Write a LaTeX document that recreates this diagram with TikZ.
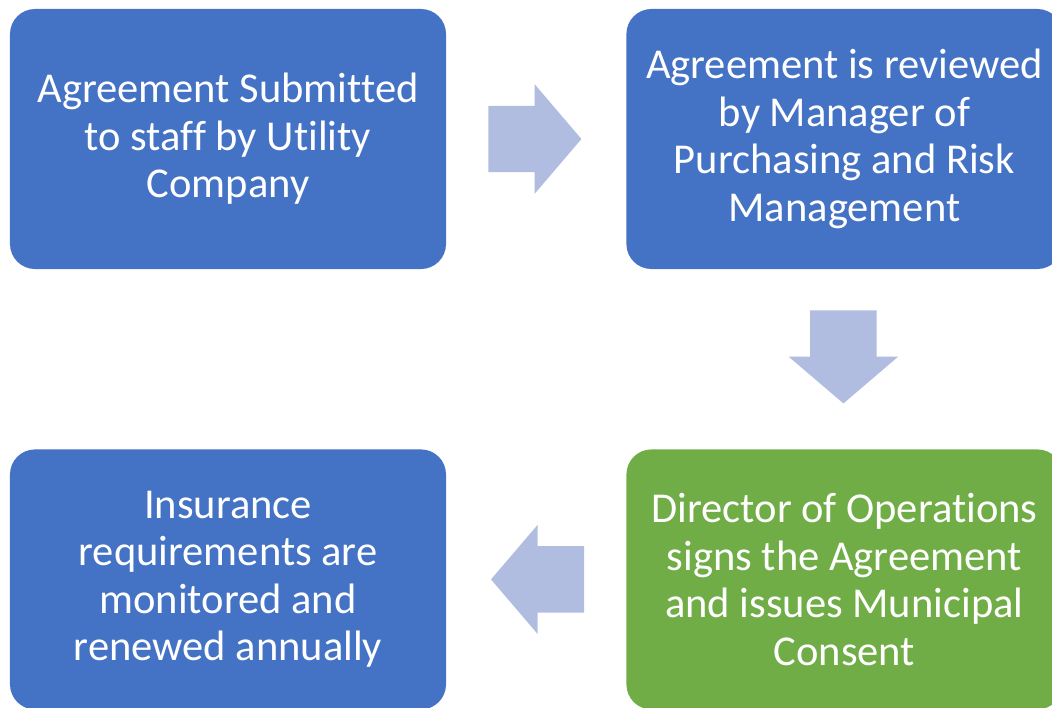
\documentclass[tikz,border=0pt]{standalone}
\usepackage{fontspec}
\setmainfont{Carlito}[Ligatures=CommonOff]
\usetikzlibrary{calc,positioning,shapes.arrows}
\definecolor{stepblue}{RGB}{68,114,196}
\definecolor{stepgreen}{RGB}{112,173,71}
\definecolor{flowblue}{RGB}{177,189,224}
\tikzset{stepbox/.style={fill=stepblue, rounded corners=0.25cm,
		minimum width=4.36cm, minimum height=2.6cm, inner sep=0pt,
		text=white, align=center, font=\fontsize{12.1}{13.5}\selectfont},
	flow/.style={single arrow, fill=flowblue, inner xsep=0pt, inner ysep=0.325cm,
		minimum height=0.93cm, single arrow head extend=0.215cm,
		single arrow tip angle=99, anchor=tail},
	flowdown/.style={flow, shape border rotate=270, inner xsep=0.325cm, inner ysep=0pt}}

\begin{document}
\begin{tikzpicture}
	\useasboundingbox (0,0) rectangle (10.52,-7.07);
	\clip (0,0) rectangle (10.52,-7.07);
	\node[stepbox] (submit) at (2.28,-1.39) {Agreement Submitted\\to staff by Utility\\Company};
	\node[stepbox, right=1.79cm of submit] (review) {Agreement is reviewed\\by Manager of\\Purchasing and Risk\\Management};
	\node[stepbox, fill=stepgreen, below=1.79cm of review] (sign) {Director of Operations\\signs the Agreement\\and issues Municipal\\Consent};
	\node[stepbox, below=1.79cm of submit] (monitor) {Insurance\\requirements are\\monitored and\\renewed annually};
	\node[flow] (toreview) at ($(submit.east)+(0.41,0)$) {};
	\node[flowdown] (tosign) at ($(review.south)+(-0.01,-0.40)$) {};
	\node[flow, shape border rotate=180] (tomonitor) at ($(sign.west)+(-0.41,0)$) {};
\end{tikzpicture}
\end{document}
